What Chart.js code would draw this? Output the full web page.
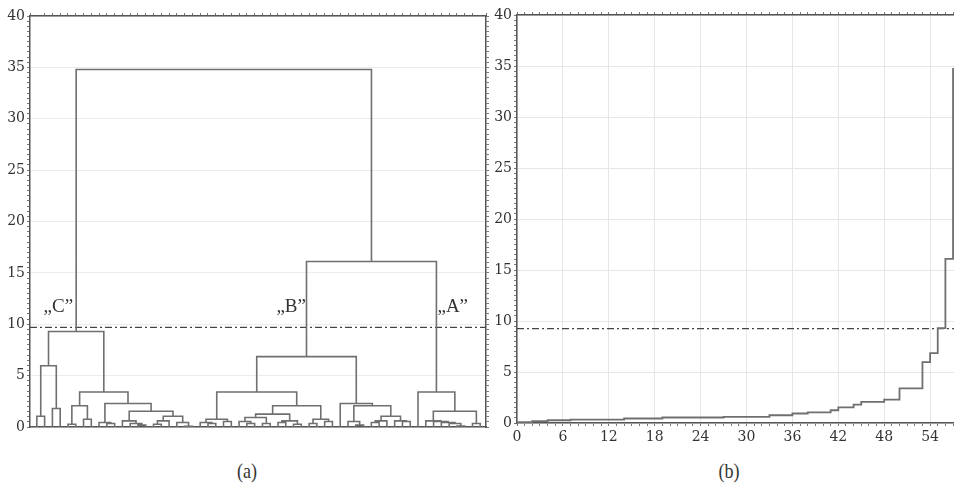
<!DOCTYPE html>
<html>
<head>
<meta charset="utf-8">
<script src="https://cdn.jsdelivr.net/npm/chart.js@4/dist/chart.umd.min.js"></script>
<style>
  html, body { margin: 0; padding: 0; background: #fff; }
  body { width: 954px; height: 498px; overflow: hidden; position: relative; }
  canvas { position: absolute; top: 0; }
  #dendro { left: 0; }
  #steps { left: 490px; }
  .caption {
    position: absolute; top: 458px; width: 60px; text-align: center;
    font: 22px "Liberation Serif", serif; color: #333; transform: scaleX(0.82);
  }
</style>
</head>
<body>
<canvas id="dendro" width="500" height="445"></canvas>
<canvas id="steps" width="500" height="445"></canvas>
<div class="caption" style="left:217px">(a)</div>
<div class="caption" style="left:699px">(b)</div>
<script>
// (a) dendrogram: 58 objects, linkage rows [childA, childB, height]
// children < 58 are objects, >= 58 refer to row (id - 58)
const leafCount = 58;
const linkage = [
    [0, 1, 1.05], [2, 3, 1.8], [58, 59, 5.96], [4, 5, 0.27], [6, 7, 0.76],
    [61, 62, 2.07], [9, 10, 0.34], [8, 64, 0.44], [13, 14, 0.18], [12, 66, 0.34],
    [11, 67, 0.6], [15, 16, 0.27], [69, 17, 0.6], [19, 20, 0.08], [18, 71, 0.44],
    [70, 72, 1.05], [68, 73, 1.54], [65, 74, 2.29], [63, 75, 3.4], [60, 76, 9.3],
    [22, 23, 0.34], [21, 78, 0.44], [24, 25, 0.54], [79, 80, 0.76], [27, 28, 0.34],
    [26, 82, 0.54], [29, 30, 0.34], [83, 84, 0.93], [31, 32, 0.44], [33, 34, 0.27],
    [86, 87, 0.6], [85, 88, 1.25], [35, 36, 0.34], [37, 38, 0.54], [90, 91, 0.76],
    [89, 92, 2.07], [81, 93, 3.4], [41, 42, 0.18], [40, 95, 0.54], [43, 44, 0.44],
    [97, 45, 0.6], [47, 48, 0.54], [46, 99, 0.6], [98, 100, 1.05], [96, 101, 2.07],
    [39, 102, 2.29], [94, 103, 6.85], [54, 55, 0.1], [53, 105, 0.34], [52, 106, 0.44],
    [51, 107, 0.54], [50, 108, 0.6], [56, 57, 0.34], [109, 110, 1.54], [49, 111, 3.4],
    [104, 112, 16.1], [77, 113, 34.8]
];
const clusterNames = ['\u201EC\u201D', '\u201EB\u201D', '\u201EA\u201D'];
const clusterNameX = [0.86, 30.8, 51.5];
const clusterNameY = 11.7;
const cutLevelA = 9.7;
const leafAxisMin = -0.88;
const leafAxisMax = 57.74;

// (b) fusion levels against step number
const fusionSteps = [
    0.08, 0.08, 0.18, 0.18, 0.27, 0.27, 0.27, 0.34, 0.34, 0.34,
    0.34, 0.34, 0.34, 0.34, 0.44, 0.44, 0.44, 0.44, 0.44, 0.54,
    0.54, 0.54, 0.54, 0.54, 0.54, 0.54, 0.54, 0.6, 0.6, 0.6,
    0.6, 0.6, 0.6, 0.76, 0.76, 0.76, 0.93, 0.93, 1.05, 1.05,
    1.05, 1.25, 1.54, 1.54, 1.8, 2.07, 2.07, 2.07, 2.29, 2.29,
    3.4, 3.4, 3.4, 5.96, 6.85, 9.3, 16.1, 34.8
];
const stepAxisMax = 60;
const cutLevelB = 9.25;

const yMax = 40;
const tickFont = { family: 'DejaVu Serif', size: 14 };
const axisColor = '#555';
const lineColor = '#6f6f6f';

function dendrogramPoints() {
    const pos = [];
    const top = [];
    for (let i = 0; i < leafCount; i++) {
        pos.push(i);
        top.push(0);
    }
    const points = [];
    linkage.forEach(([a, b, h]) => {
        points.push(
            { x: pos[a], y: top[a] }, { x: pos[a], y: h },
            { x: pos[b], y: h }, { x: pos[b], y: top[b] },
            { x: pos[b], y: null }
        );
        pos.push((pos[a] + pos[b]) / 2);
        top.push(h);
    });
    return points;
}

function valueAxis(gridColor) {
    return {
        type: 'linear', position: 'left', min: 0, max: yMax,
        ticks: {
            stepSize: 0.5, autoSkip: false, padding: 2, font: tickFont, color: '#333',
            callback: v => (v % 5 === 0 ? v : '')
        },
        grid: {
            color: c => (c.tick && c.tick.value % 5 === 0 ? gridColor : 'rgba(0,0,0,0)'),
            tickColor: '#777', tickLength: 3
        },
        border: { color: axisColor, width: 1.5 },
        afterFit: s => { s.width = 0; }
    };
}

function minorAxis(position, min, max, step) {
    return {
        type: 'linear', position, min, max,
        ticks: { display: false, stepSize: step, autoSkip: false },
        grid: { drawOnChartArea: false, tickColor: '#777', tickLength: 3 },
        border: { color: axisColor, width: 1.5 },
        afterFit: s => {
            if (position === 'top' || position === 'bottom') s.height = 0;
            else s.width = 0;
        }
    };
}

const clusterLabelPlugin = {
    id: 'clusterLabels',
    afterDatasetsDraw(chart) {
        const { ctx, scales: { x, y } } = chart;
        ctx.save();
        ctx.font = '19px "Liberation Serif"';
        ctx.fillStyle = '#333';
        ctx.textBaseline = 'middle';
        ctx.textAlign = 'left';
        clusterNames.forEach((name, i) => {
            ctx.fillText(name, x.getPixelForValue(clusterNameX[i]), y.getPixelForValue(clusterNameY));
        });
        ctx.restore();
    }
};

const dashed = { borderDash: [7, 3, 2, 3], borderColor: '#444', borderWidth: 1.3, pointRadius: 0 };

const leftY = valueAxis('#ececec');
leftY.afterFit = s => { s.width = 30; };

new Chart(document.getElementById('dendro'), {
    type: 'line',
    data: {
        datasets: [
            {
                data: dendrogramPoints(),
                borderColor: lineColor, borderWidth: 1.6,
                pointRadius: 0, spanGaps: false, tension: 0
            },
            Object.assign({ data: [{ x: leafAxisMin, y: cutLevelA }, { x: leafAxisMax, y: cutLevelA }] }, dashed)
        ]
    },
    options: {
        responsive: false, animation: false, devicePixelRatio: 1,
        layout: { padding: { top: 16, left: 0, right: 14, bottom: 18 } },
        plugins: { legend: { display: false }, tooltip: { enabled: false } },
        scales: {
            x: {
                type: 'linear', position: 'bottom', min: leafAxisMin, max: leafAxisMax,
                ticks: { display: false }, grid: { display: false },
                border: { color: axisColor, width: 1.5 },
                afterFit: s => { s.height = 0; }
            },
            xTop: minorAxis('top', leafAxisMin, leafAxisMax, 1),
            y: leftY,
            yRight: minorAxis('right', 0, yMax, 0.5)
        }
    },
    plugins: [clusterLabelPlugin]
});

const rightY = valueAxis('#e6e6e6');
rightY.afterFit = s => { s.width = 27; };

new Chart(document.getElementById('steps'), {
    type: 'line',
    data: {
        datasets: [
            {
                data: fusionSteps.map((v, i) => ({ x: i, y: v })),
                borderColor: lineColor, borderWidth: 1.8,
                pointRadius: 0, stepped: 'before'
            },
            Object.assign({ data: [{ x: 0, y: cutLevelB }, { x: stepAxisMax, y: cutLevelB }] }, dashed)
        ]
    },
    options: {
        responsive: false, animation: false, devicePixelRatio: 1,
        layout: { padding: { top: 15, left: 0, right: 14, bottom: 0 } },
        plugins: { legend: { display: false }, tooltip: { enabled: false } },
        scales: {
            x: {
                type: 'linear', position: 'bottom', min: 0, max: stepAxisMax,
                ticks: {
                    stepSize: 1, autoSkip: false, maxRotation: 0, minRotation: 0, padding: 3,
                    font: tickFont, color: '#333',
                    callback: v => (v % 6 === 0 ? v : '')
                },
                grid: {
                    color: c => (c.tick && c.tick.value % 6 === 0 ? '#e6e6e6' : 'rgba(0,0,0,0)'),
                    tickColor: '#777', tickLength: 3
                },
                border: { color: axisColor, width: 1.5 },
                afterFit: s => { s.height = 22; }
            },
            xTop: minorAxis('top', 0, stepAxisMax, 1),
            y: rightY
        }
    }
});
</script>
</body>
</html>
